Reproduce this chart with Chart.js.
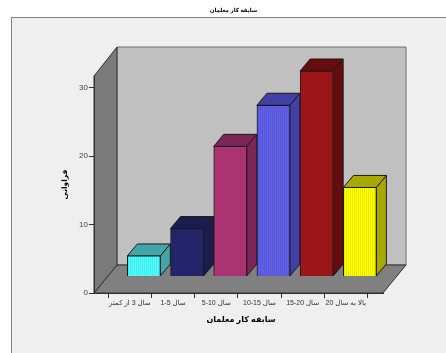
<!DOCTYPE html>
<html>
<head>
<meta charset="utf-8">
<style>html,body{margin:0;padding:0;background:#fff}canvas{display:block}</style>
<script src="https://cdn.jsdelivr.net/npm/chart.js@4"></script>
</head>
<body>
<canvas id="c" width="446" height="353"></canvas>
<script>
// Teaching experience of the surveyed teachers
const categories = ["سال 3 از کمتر", "1-5 سال", "5-10 سال", "10-15 سال", "15-20 سال", "بالا به سال 20"];
const counts = [3, 7, 19, 25, 30, 13];
const frontColors = ["#4dffff", "#26266e", "#b33576", "#5f5fe8", "#a31619", "#ffff00"];
const shadeColors = ["#40a6a6", "#1c1c50", "#7c2558", "#4040a5", "#660c0e", "#a8a800"];
const yTicks = [0, 10, 20, 30];
const chartTitle = "سابقه کار معلمان";
const xTitle = "سابقه کار معلمان";
const yTitle = "فراوانی";

const FONT = '"Liberation Sans","DejaVu Sans",sans-serif';
const WALL = {dx: 23, dy: -28, top: -29};   // depth of the room
const BAR = {dx: 10, dy: -12};              // depth of each column
const SHIFT = {x: 14, y: -16.5};            // columns stand inside the floor

// Fine dotted fill used on the front face of the columns
function dotted(color) {
  const t = document.createElement('canvas');
  t.width = t.height = 4;
  const g = t.getContext('2d');
  g.fillStyle = color;
  g.fillRect(0, 0, 4, 4);
  g.fillStyle = 'rgba(0,0,0,0.22)';
  g.fillRect(0, 0, 1, 1);
  g.fillRect(2, 2, 1, 1);
  g.fillStyle = 'rgba(0,0,0,0.10)';
  g.fillRect(2, 0, 1, 1);
  g.fillRect(0, 2, 1, 1);
  return g.createPattern(t, 'repeat');
}

function poly(ctx, pts, fill, stroke) {
  ctx.beginPath();
  pts.forEach((p, i) => i ? ctx.lineTo(p[0], p[1]) : ctx.moveTo(p[0], p[1]));
  ctx.closePath();
  ctx.fillStyle = fill;
  ctx.fill();
  ctx.strokeStyle = stroke;
  ctx.lineWidth = 1;
  ctx.stroke();
}

const room = {
  id: 'room',
  beforeDraw(chart) {
    const {ctx, chartArea: a} = chart;
    const {left: l, right: r, top: t, bottom: b} = a;
    const d = WALL;
    ctx.save();
    ctx.fillStyle = '#efefef';
    ctx.fillRect(11.5, 17.5, 446, 353);
    ctx.strokeStyle = '#808080';
    ctx.lineWidth = 1;
    ctx.strokeRect(11.5, 17.5, 460, 360);
    poly(ctx, [[l + d.dx, t + d.top], [r + d.dx, t + d.top], [r + d.dx, b + d.dy], [l + d.dx, b + d.dy]], '#c0c0c0', '#707070');
    poly(ctx, [[l, b], [l + d.dx, b + d.dy], [r + d.dx, b + d.dy], [r, b]], '#808080', '#303030');
    poly(ctx, [[l, t], [l + d.dx, t + d.top], [l + d.dx, b + d.dy], [l, b]], '#7a7a7a', '#303030');
    ctx.fillStyle = '#000';
    ctx.textAlign = 'center';
    ctx.textBaseline = 'middle';
    ctx.font = 'bold 5.5px ' + FONT;
    ctx.fillText(chartTitle, 233.5, 10.5);
    ctx.font = 'bold 8px ' + FONT;
    ctx.fillText(xTitle, 241, 320);
    ctx.restore();
  },
  // Side and top faces go first; the library then paints the front faces on top
  beforeDatasetDraw(chart) {
    const {ctx} = chart;
    const meta = chart.getDatasetMeta(0);
    ctx.save();
    ctx.translate(SHIFT.x, SHIFT.y);
    meta.data.forEach((bar, i) => {
      const {x, y, base, width} = bar.getProps(['x', 'y', 'base', 'width'], true);
      const l = x - width / 2, r = x + width / 2;
      const edge = '#1a1a1a';
      poly(ctx, [[r, y], [r + BAR.dx, y + BAR.dy], [r + BAR.dx, base + BAR.dy], [r, base]], shadeColors[i], edge);
      poly(ctx, [[l, y], [l + BAR.dx, y + BAR.dy], [r + BAR.dx, y + BAR.dy], [r, y]], shadeColors[i], edge);
    });
    ctx.restore();
    ctx.save();
    ctx.translate(SHIFT.x, SHIFT.y);
  },
  afterDatasetDraw(chart) {
    chart.ctx.restore();
  }
};

new Chart(document.getElementById('c'), {
  type: 'bar',
  plugins: [room],
  data: {
    datasets: [{
      data: counts.map((v, i) => ({x: i, y: v})),
      backgroundColor: frontColors.map(dotted),
      borderColor: '#1a1a1a',
      borderWidth: 1,
      barThickness: 33,
      clip: false
    }]
  },
  options: {
    responsive: false,
    animation: false,
    layout: {padding: {top: 76, right: 63, bottom: 0, left: 0}},
    plugins: {
      legend: {display: false},
      tooltip: {enabled: false}
    },
    scales: {
      x: {
        type: 'linear',
        min: -0.83, max: 5.86,
        offset: false,
        afterBuildTicks(s) { s.ticks = categories.map((_, i) => ({value: i})); },
        afterFit(s) { s.height = 60; },
        grid: {drawOnChartArea: false, tickLength: 5, color: '#303030', drawTicks: true},
        border: {color: '#303030'},
        ticks: {
          autoSkip: false, maxRotation: 0, color: '#303030', padding: 1,
          font: {family: FONT, size: 7},
          callback: v => categories[v]
        }
      },
      y: {
        min: 0, max: 31.68,
        afterBuildTicks(s) { s.ticks = yTicks.map(v => ({value: v})); },
        afterFit(s) { s.width = 94; },
        grid: {drawOnChartArea: false, tickLength: 5, color: '#303030'},
        border: {color: '#303030'},
        ticks: {color: '#404040', padding: 1, font: {family: FONT, size: 8}},
        title: {
          display: true, text: yTitle, color: '#000',
          font: {family: FONT, size: 7.5, weight: 'bold'},
          padding: {top: 60, bottom: 0}
        }
      }
    }
  }
});
</script>
</body>
</html>
